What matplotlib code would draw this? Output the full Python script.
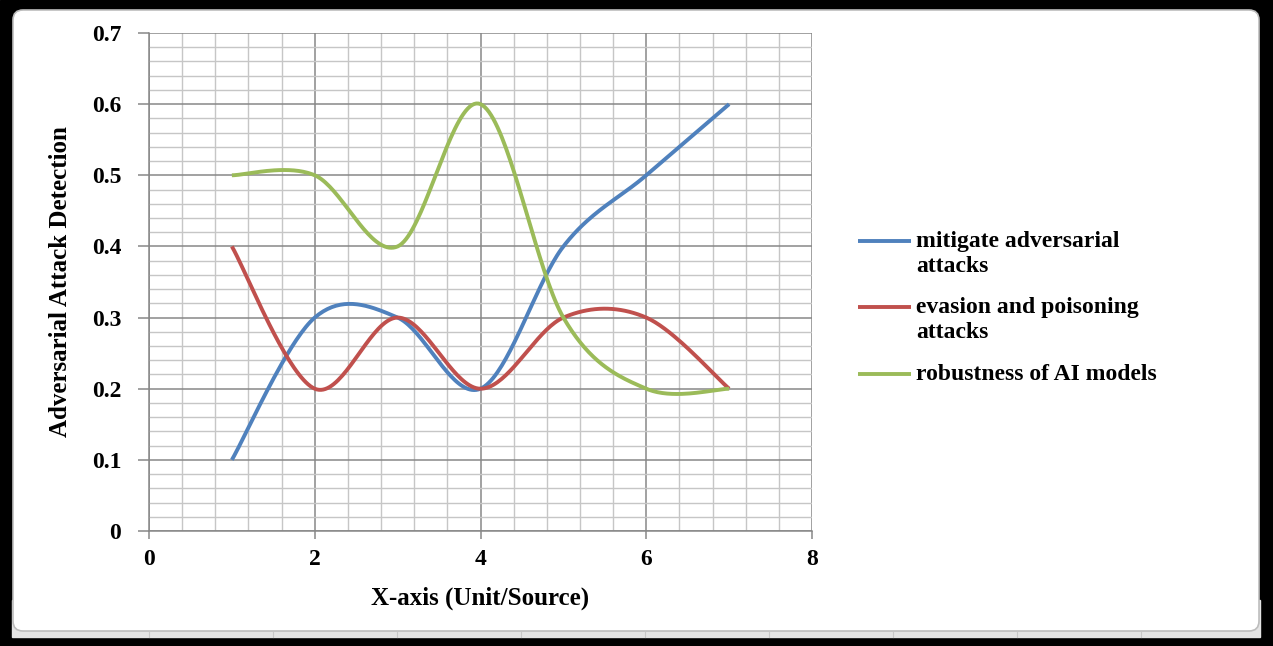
import numpy as np
import matplotlib
matplotlib.use('Agg')
import matplotlib.pyplot as plt
from matplotlib.patches import FancyBboxPatch, Rectangle
from matplotlib.ticker import MultipleLocator, FuncFormatter

plt.rcParams['font.family'] = ['Liberation Serif', 'DejaVu Serif']
plt.rcParams['font.weight'] = 'bold'

# data
x_vals = [1, 2, 3, 4, 5, 6, 7]
mitigate = [0.1, 0.3, 0.3, 0.2, 0.4, 0.5, 0.6]
evasion = [0.4, 0.2, 0.3, 0.2, 0.3, 0.3, 0.2]
robustness = [0.5, 0.5, 0.4, 0.6, 0.3, 0.2, 0.2]
series_names = ['mitigate adversarial\nattacks', 'evasion and poisoning\nattacks',
                'robustness of AI models']
series_colors = ['#4F81BD', '#C0504D', '#9BBB59']
x_label = 'X-axis (Unit/Source)'
y_label = 'Adversarial Attack Detection'


def smooth(xs, ys, n=40):
    # Excel-like smoothed line: Catmull-Rom through the points as cubic Bezier
    p = np.column_stack([xs, ys]).astype(float)
    p = np.vstack([p[0], p, p[-1]])
    out = []
    t = np.linspace(0, 1, n)[:, None]
    for i in range(1, len(p) - 2):
        p0, p1, p2, p3 = p[i - 1], p[i], p[i + 1], p[i + 2]
        c1 = p1 + (p2 - p0) / 6
        c2 = p2 - (p3 - p1) / 6
        seg = ((1 - t) ** 3) * p1 + 3 * ((1 - t) ** 2) * t * c1 + 3 * (1 - t) * t ** 2 * c2 + t ** 3 * p2
        out.append(seg if i == 1 else seg[1:])
    out = np.vstack(out)
    return out[:, 0], out[:, 1]


W, H = 1273, 646
fig = plt.figure(figsize=(W / 100, H / 100), dpi=100)

# background frame (black border, white rounded sheet)
bg = fig.add_axes([0, 0, 1, 1])
bg.set_xlim(0, W)
bg.set_ylim(H, 0)
bg.axis('off')
bg.add_patch(Rectangle((0, 0), W, H, color='black'))
bg.add_patch(Rectangle((12, 600), 1248, 37, color='#e4e4e4'))
for gx in range(149, 1260, 124):
    bg.plot([gx, gx], [632, 637], color='#c8c8c8', lw=0.8)
bg.add_patch(FancyBboxPatch((13, 10), 1246, 621, boxstyle='round,pad=0,rounding_size=10',
                            fc='white', ec='#bdbdbd', lw=1.2))

ax = fig.add_axes([149 / W, 1 - 531 / H, (812 - 149) / W, (531 - 33) / H])
ax.set_facecolor('none')
ax.set_xlim(0, 8)
ax.set_ylim(0, 0.7)
ax.xaxis.set_major_locator(MultipleLocator(2))
ax.xaxis.set_minor_locator(MultipleLocator(0.4))
ax.yaxis.set_major_locator(MultipleLocator(0.1))
ax.yaxis.set_minor_locator(MultipleLocator(0.02))
ax.grid(which='minor', color='#c6c6c6', lw=1.0)
ax.grid(which='major', color='#878787', lw=1.1)
ax.set_axisbelow(True)
ax.tick_params(which='minor', length=0)
ax.tick_params(axis='y', which='major', length=8, width=1.1, color='#878787',
               labelsize=17, pad=12)
ax.tick_params(axis='x', which='major', length=6, width=1.1, color='#878787',
               labelsize=17, pad=7)
ax.yaxis.set_major_formatter(FuncFormatter(lambda v, _: '0' if abs(v) < 1e-9 else f'{v:.1f}'))
for s in ['top', 'right']:
    ax.spines[s].set_visible(False)
for s in ['left', 'bottom']:
    ax.spines[s].set_color('#878787')
    ax.spines[s].set_linewidth(1.1)

for ys, c in zip([mitigate, evasion, robustness], series_colors):
    sx, sy = smooth(x_vals, ys)
    ax.plot(sx, sy, color=c, lw=2.8, solid_capstyle='butt', clip_on=False)

ax.set_xlabel(x_label, fontsize=18, fontweight='bold', labelpad=12)
ax.set_ylabel(y_label, fontsize=18, fontweight='bold', labelpad=14)

# legend drawn on the right, Excel style
legend_y = [241, 307, 374]
for name, c, ly in zip(series_names, series_colors, legend_y):
    bg.plot([858, 911], [ly, ly], color=c, lw=2.8, solid_capstyle='butt')
    bg.text(916, ly - 10, name, fontsize=17, fontweight='bold', va='top', ha='left',
            linespacing=1.25)

fig.savefig('out.png', dpi=100)
